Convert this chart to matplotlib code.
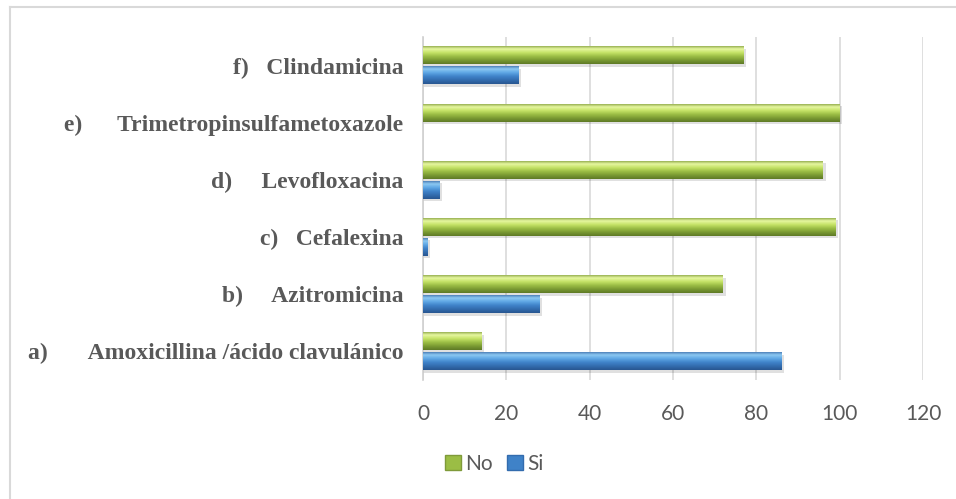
import numpy as np
import matplotlib
matplotlib.use('Agg')
from matplotlib import pyplot as plt
from matplotlib.colors import LinearSegmentedColormap
from matplotlib.patches import Patch
from matplotlib.lines import Line2D

# antibiotic names, bottom to top
farmacos = ['a)       Amoxicillina /ácido clavulánico',
            'b)     Azitromicina',
            'c)   Cefalexina',
            'd)     Levofloxacina',
            'e)      Trimetropinsulfametoxazole',
            'f)   Clindamicina']
no_vals = [14, 72, 99, 96, 100, 77]
si_vals = [86, 28, 1, 4, 0, 23]
ticks_x = [0, 20, 40, 60, 80, 100, 120]

gris = '#595959'
verde = LinearSegmentedColormap.from_list('verde', ['#7f9a3a', '#e6f7a0', '#c4e266', '#9bbd45', '#7a9a33', '#5f7a26'])
azul = LinearSegmentedColormap.from_list('azul', ['#3b6aa6', '#8cc8f2', '#5ea6e4', '#3f82c8', '#336cae', '#285690'])

fig = plt.figure(figsize=(9.56, 4.99), dpi=100)
ax = fig.add_axes([423/956, 1-380/499, 500/956, 343/499])

y = np.arange(len(farmacos))
h = 0.315
b_no = ax.barh(y + 0.178, no_vals, height=h, color='#9bbd45', zorder=2)
b_si = ax.barh(y - 0.17, si_vals, height=h, color='#3f82c8', zorder=2)

# vertical gradient on every bar (3d look)
grad = np.linspace(0, 1, 64).reshape(-1, 1)
for bars, cm in [(b_no, verde), (b_si, azul)]:
    for p in bars:
        w = p.get_width()
        if w <= 0:
            continue
        x0, y0, hh = p.get_x(), p.get_y(), p.get_height()
        # soft shadow under the bar
        ax.barh(y0 + hh/2 - 0.045, w + 0.6, height=hh, left=x0, color='#000000', alpha=0.12, zorder=1)
        im = ax.imshow(grad, extent=[x0, x0 + w, y0, y0 + hh], aspect='auto', cmap=cm,
                       origin='upper', zorder=3, interpolation='bilinear')
        im.set_clip_path(p)

ax.set_xlim(0, 120)
ax.set_ylim(-0.5, 5.5)
ax.set_xticks(ticks_x)
ax.set_yticks(y)
ax.set_yticklabels(farmacos, fontfamily='Liberation Serif', fontweight='bold', fontsize=17, color=gris)
for lab in ax.get_xticklabels():
    lab.set_fontfamily('Lato')
    lab.set_fontweight('normal')
    lab.set_fontsize(15)
    lab.set_color(gris)
ax.tick_params(axis='y', length=0, pad=14)
ax.tick_params(axis='x', length=0, pad=17)
ax.grid(axis='x', color='#d9d9d9', lw=1.2, zorder=0)
ax.set_axisbelow(True)
for s in ['top', 'right', 'bottom']:
    ax.spines[s].set_visible(False)
ax.spines['left'].set_color('#d0d0d0')
ax.spines['left'].set_linewidth(1.2)

handles = [Patch(facecolor='#9bbd45', edgecolor='#7f9a3a', label='No'),
           Patch(facecolor='#3f82c8', edgecolor='#336cae', label='Si')]
leg = fig.legend(handles=handles, loc='center', bbox_to_anchor=(494/956, 1-464/499), ncol=2,
                 frameon=False, handlelength=0.75, handleheight=0.75, handletextpad=0.2,
                 columnspacing=0.7, prop={'family': 'Lato', 'weight': 'normal', 'size': 15})
for t in leg.get_texts():
    t.set_color(gris)

# outer frame
fig.add_artist(Line2D([10/956, 1], [1-7/499, 1-7/499], color='#d9d9d9', lw=1.5))
fig.add_artist(Line2D([10/956, 10/956], [0, 1-7/499], color='#d9d9d9', lw=1.5))

fig.savefig('out.png', dpi=100)
